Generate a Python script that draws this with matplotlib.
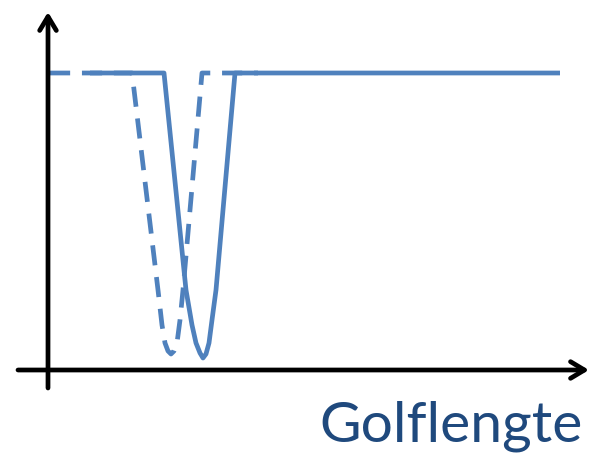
import numpy as np
import matplotlib
matplotlib.use("Agg")
import matplotlib.pyplot as plt

# ── Data (pixel-like units, y grows downwards) ──
dashed_x = [50, 132, 158, 162, 165, 168, 171, 174, 177, 180, 183, 202, 258]
dashed_y = [73, 73, 290, 325, 343, 351, 354, 351, 343, 320, 290, 73, 73]

solid_x = [90, 164, 186, 192, 196, 200, 203, 206, 209, 212, 216, 235, 560]
solid_y = [73, 73, 290, 325, 343, 353, 358, 354, 343, 320, 290, 73, 73]

label = "Golflengte"

blue = "#4F81BD"
dark_blue = "#1F497D"

plt.rcParams["lines.scale_dashes"] = False

fig = plt.figure(figsize=(5.97, 4.57), dpi=100)
ax = fig.add_axes([0, 0, 1, 1])
ax.set_xlim(0, 597)
ax.set_ylim(457, 0)
ax.axis("off")

# curves
ax.plot(solid_x, solid_y, color=blue, lw=3.4, solid_joinstyle="round", solid_capstyle="butt")
ax.plot(dashed_x, dashed_y, color=blue, lw=3.4, dashes=(14.5, 8.5), dash_joinstyle="round")

# axes with open arrowheads
arrow = dict(arrowstyle="->,head_length=1.0,head_width=0.6", lw=3.4, color="black",
             shrinkA=0, shrinkB=0, joinstyle="round", capstyle="round")
ax.annotate("", xy=(48, 12), xytext=(48, 388), arrowprops=arrow)
ax.annotate("", xy=(589, 370), xytext=(18, 370), arrowprops=arrow)

ax.text(583, 441, label, ha="right", va="baseline", fontsize=41,
        color=dark_blue, family=["Lato", "DejaVu Sans"])

fig.savefig("out.png", dpi=100, facecolor="white")
